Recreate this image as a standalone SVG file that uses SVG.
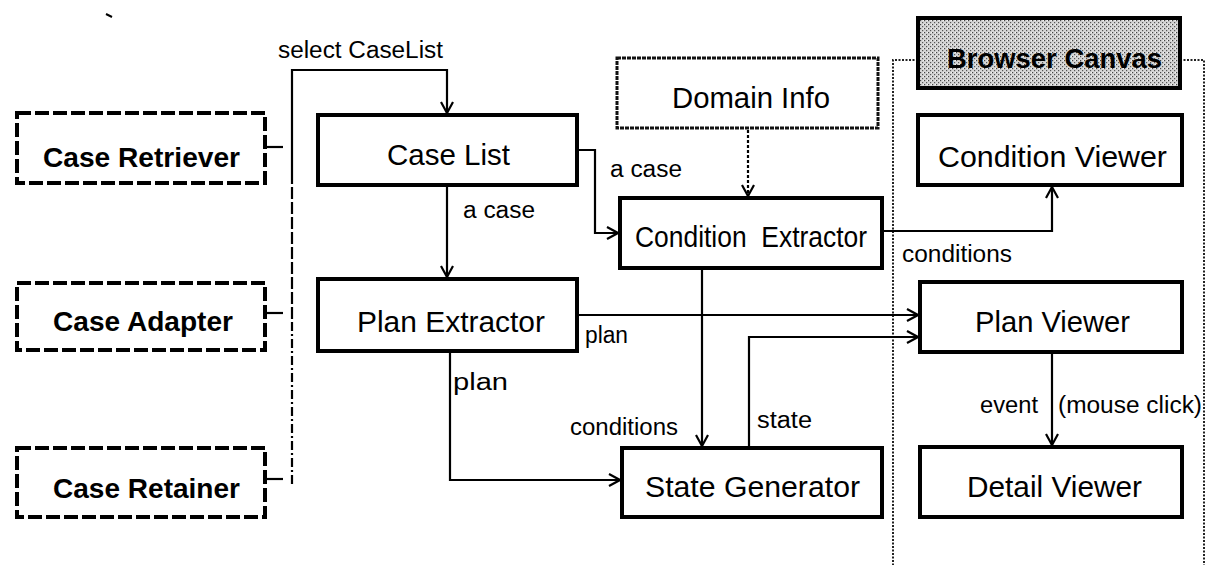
<svg xmlns="http://www.w3.org/2000/svg" width="1208" height="565" viewBox="0 0 1208 565">
  <defs>
    <marker id="arrow" markerWidth="14" markerHeight="14" refX="12" refY="7" orient="auto" markerUnits="userSpaceOnUse">
      <path d="M1,1 L12,7 L1,13" fill="none" stroke="#000" stroke-width="2.2"/>
    </marker>
    <pattern id="stipple" width="4" height="4" patternUnits="userSpaceOnUse">
      <rect width="4" height="4" fill="#d6d6d6"/>
      <rect x="0" y="0" width="1.2" height="1.2" fill="#444"/>
      <rect x="2" y="2" width="1.2" height="1.2" fill="#555"/>
      <rect x="3" y="0" width="1" height="1" fill="#f4f4f4"/>
    </pattern>
    <style>
      .box { fill: #fff; stroke: #000; stroke-width: 4; }
      .dbox { fill: #fff; stroke: #000; stroke-width: 4; stroke-dasharray: 14 4; }
      .ibox { fill: #fff; stroke: #111; stroke-width: 3; stroke-dasharray: 4 1; }
      .frame { fill: none; stroke: #222; stroke-width: 2; stroke-dasharray: 2 1.5; }
      .lbl { font-family: "Liberation Sans", Arial, sans-serif; font-size: 29px; fill: #000; }
      .blbl { font-family: "Liberation Sans", Arial, sans-serif; font-size: 28px; font-weight: bold; fill: #000; }
      .elbl { font-family: "Liberation Sans", Arial, sans-serif; font-size: 23px; fill: #000; }
      .wire { fill: none; stroke: #000; stroke-width: 2.2; }
    </style>
  </defs>
  <rect width="1208" height="565" fill="#fff"/>

  <!-- stray mark near the top left -->
  <line x1="106" y1="14" x2="112" y2="17" stroke="#000" stroke-width="2"/>

  <!-- browser canvas frame -->
  <g id="browser-frame">
    <path class="frame" d="M918,60 H893 V565 M1180,60 H1204 V565"/>
  </g>

  <!-- connectors -->
  <g id="connectors">
    <!-- select CaseList -->
    <path class="wire" d="M292,172 V70 H447 V113" marker-end="url(#arrow)"/>
    <path class="wire" d="M292,172 V322" stroke-dasharray="12 3"/>
    <path class="wire" d="M292,322 V484" stroke-dasharray="9 3 2 3"/>
    <path class="wire" d="M265,147 H283"/>
    <path class="wire" d="M265,313 H283"/>
    <path class="wire" d="M265,479 H283"/>
    <!-- Case List to Plan Extractor -->
    <path class="wire" d="M447,185 V277" marker-end="url(#arrow)"/>
    <!-- Case List to Condition Extractor -->
    <path class="wire" d="M577,150 H595 V233 H618" marker-end="url(#arrow)"/>
    <!-- Domain Info to Condition Extractor -->
    <path class="wire" d="M748,130 V196" stroke-dasharray="3 2" marker-end="url(#arrow)"/>
    <!-- Condition Extractor to Condition Viewer -->
    <path class="wire" d="M882,231 H1052 V187" marker-end="url(#arrow)"/>
    <!-- Plan Extractor to Plan Viewer -->
    <path class="wire" d="M577,315 H918" marker-end="url(#arrow)"/>
    <!-- Condition Extractor to State Generator -->
    <path class="wire" d="M702,268 V446" marker-end="url(#arrow)"/>
    <!-- Plan Extractor to State Generator -->
    <path class="wire" d="M450,351 V480 H620" marker-end="url(#arrow)"/>
    <!-- State Generator to Plan Viewer -->
    <path class="wire" d="M749,448 V337 H918" marker-end="url(#arrow)"/>
    <!-- Plan Viewer to Detail Viewer -->
    <path class="wire" d="M1052,352 V445" marker-end="url(#arrow)"/>

    <text class="elbl" x="278" y="58" textLength="165" lengthAdjust="spacingAndGlyphs">select CaseList</text>
    <text class="elbl" x="463" y="218" textLength="72" lengthAdjust="spacingAndGlyphs">a case</text>
    <text class="elbl" x="610" y="177" textLength="72" lengthAdjust="spacingAndGlyphs">a case</text>
    <text class="elbl" x="902" y="262" textLength="110" lengthAdjust="spacingAndGlyphs">conditions</text>
    <text class="elbl" x="585" y="343" textLength="43" lengthAdjust="spacingAndGlyphs">plan</text>
    <text class="elbl" x="453" y="390" font-size="25" textLength="55" lengthAdjust="spacingAndGlyphs">plan</text>
    <text class="elbl" x="570" y="435" textLength="108" lengthAdjust="spacingAndGlyphs">conditions</text>
    <text class="elbl" x="757" y="428" textLength="55" lengthAdjust="spacingAndGlyphs">state</text>
    <text class="elbl" y="413"><tspan x="980" textLength="58" lengthAdjust="spacingAndGlyphs">event</tspan> <tspan x="1058" textLength="144" lengthAdjust="spacingAndGlyphs">(mouse click)</tspan></text>
  </g>

  <!-- case-base components -->
  <g id="case-retriever">
    <rect class="dbox" x="17" y="113" width="248" height="70"/>
    <text class="blbl" x="43" y="167" textLength="197" lengthAdjust="spacingAndGlyphs">Case Retriever</text>
  </g>
  <g id="case-adapter">
    <rect class="dbox" x="17" y="283" width="248" height="67"/>
    <text class="blbl" x="53" y="331" textLength="180" lengthAdjust="spacingAndGlyphs">Case Adapter</text>
  </g>
  <g id="case-retainer">
    <rect class="dbox" x="17" y="448" width="248" height="69"/>
    <text class="blbl" x="53" y="498" textLength="187" lengthAdjust="spacingAndGlyphs">Case Retainer</text>
  </g>

  <!-- processing components -->
  <g id="case-list">
    <rect class="box" x="318" y="115" width="259" height="70"/>
    <text class="lbl" x="387" y="165" textLength="123" lengthAdjust="spacingAndGlyphs">Case List</text>
  </g>
  <g id="plan-extractor">
    <rect class="box" x="318" y="279" width="259" height="72"/>
    <text class="lbl" x="357" y="332" textLength="188" lengthAdjust="spacingAndGlyphs">Plan Extractor</text>
  </g>
  <g id="domain-info">
    <rect class="ibox" x="617" y="58" width="261" height="70"/>
    <text class="lbl" x="672" y="108" textLength="158" lengthAdjust="spacingAndGlyphs">Domain Info</text>
  </g>
  <g id="condition-extractor">
    <rect class="box" x="620" y="198" width="262" height="70"/>
    <text class="lbl" x="635" y="247" textLength="232" lengthAdjust="spacingAndGlyphs" xml:space="preserve">Condition  Extractor</text>
  </g>
  <g id="state-generator">
    <rect class="box" x="622" y="448" width="260" height="69"/>
    <text class="lbl" x="645" y="497" textLength="215" lengthAdjust="spacingAndGlyphs">State Generator</text>
  </g>

  <!-- browser canvas components -->
  <g id="browser-canvas">
    <rect x="918" y="18" width="262" height="70" fill="url(#stipple)" stroke="#000" stroke-width="4"/>
    <text class="blbl" x="947" y="68" font-size="27" textLength="215" lengthAdjust="spacingAndGlyphs">Browser Canvas</text>
  </g>
  <g id="condition-viewer">
    <rect class="box" x="918" y="115" width="264" height="70"/>
    <text class="lbl" x="938" y="167" textLength="229" lengthAdjust="spacingAndGlyphs">Condition Viewer</text>
  </g>
  <g id="plan-viewer">
    <rect class="box" x="920" y="282" width="262" height="70"/>
    <text class="lbl" x="975" y="332" textLength="155" lengthAdjust="spacingAndGlyphs">Plan Viewer</text>
  </g>
  <g id="detail-viewer">
    <rect class="box" x="920" y="447" width="262" height="70"/>
    <text class="lbl" x="967" y="497" textLength="175" lengthAdjust="spacingAndGlyphs">Detail Viewer</text>
  </g>
</svg>
